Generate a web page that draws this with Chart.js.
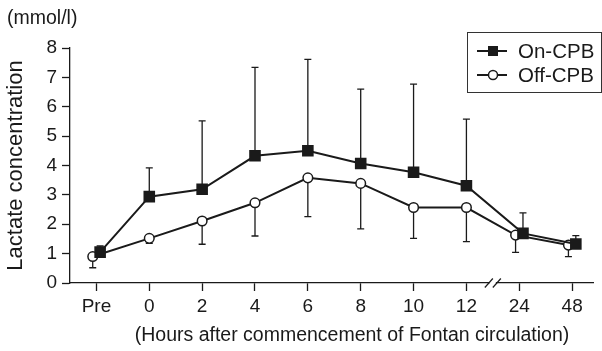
<!DOCTYPE html>
<html>
<head>
<meta charset="utf-8">
<script src="https://cdn.jsdelivr.net/npm/chart.js@4.4.1/dist/chart.umd.min.js"></script>
<style>
html, body { margin: 0; padding: 0; background: #fff; }
#wrap { width: 602px; height: 351px; position: relative; }
</style>
</head>
<body>
<div id="wrap"><canvas id="chart"></canvas></div>
<script>
// values
const timeLabels = ["Pre", "0", "2", "4", "6", "8", "10", "12", "24", "48"];
const onCpbMean = [1.05, 2.94, 3.19, 4.33, 4.5, 4.07, 3.77, 3.31, 1.69, 1.33];
const onCpbSd = [0.21, 0.98, 2.33, 3.01, 3.11, 2.53, 3.0, 2.27, 0.7, 0.28];
const offCpbMean = [0.9, 1.52, 2.11, 2.73, 3.58, 3.39, 2.57, 2.57, 1.63, 1.29];
const offCpbSd = [0.38, 0.17, 0.79, 1.13, 1.32, 1.55, 1.05, 1.16, 0.59, 0.39];
const yTickValues = [0, 1, 2, 3, 4, 5, 6, 7, 8];
const seriesNames = ["On-CPB", "Off-CPB"];
const xTitle = "(Hours after commencement of Fontan circulation)";
const yTitle = "Lactate concentration";
const yUnit = "(mmol/l)";

const INK = "#1a1a1a";
const FONT = "'Liberation Sans', Arial, sans-serif";
Chart.defaults.font.family = FONT;
Chart.defaults.color = INK;

// nudge the two series apart where they sit on top of each other
const dodge = i => Math.abs(onCpbMean[i] - offCpbMean[i]) < 0.5 ? 0.07 : 0;
const onPoints = onCpbMean.map((v, i) => ({ x: i + dodge(i), y: v }));
const offPoints = offCpbMean.map((v, i) => ({ x: i - dodge(i), y: v }));

const extras = {
    id: "extras",
    beforeDatasetsDraw(chart) {
        const ctx = chart.ctx;
        const xs = chart.scales.x, ys = chart.scales.y;
        ctx.save();
        ctx.strokeStyle = INK;
        ctx.lineWidth = 1.3;
        const bar = (x, y0, y1) => {
            ctx.beginPath();
            ctx.moveTo(x, y0); ctx.lineTo(x, y1);
            ctx.moveTo(x - 3.5, y1); ctx.lineTo(x + 3.5, y1);
            ctx.stroke();
        };
        onPoints.forEach((p, i) => bar(xs.getPixelForValue(p.x), ys.getPixelForValue(p.y), ys.getPixelForValue(p.y + onCpbSd[i])));
        offPoints.forEach((p, i) => bar(xs.getPixelForValue(p.x), ys.getPixelForValue(p.y), ys.getPixelForValue(p.y - offCpbSd[i])));
        ctx.restore();
    },
    afterDraw(chart) {
        const ctx = chart.ctx;
        const xs = chart.scales.x;
        const area = chart.chartArea;
        ctx.save();
        // axis break between 12 and 24
        const bx = xs.getPixelForValue(7.5), by = area.bottom;
        ctx.fillStyle = "#fff";
        ctx.fillRect(bx - 3, by - 2, 6, 4);
        ctx.strokeStyle = INK;
        ctx.lineWidth = 1.2;
        [-4, 4].forEach(d => {
            ctx.beginPath();
            ctx.moveTo(bx + d - 4, by + 4.5);
            ctx.lineTo(bx + d + 4, by - 4.5);
            ctx.stroke();
        });
        // unit label and x title
        ctx.fillStyle = INK;
        ctx.font = "19.5px " + FONT;
        ctx.textAlign = "left";
        ctx.textBaseline = "middle";
        ctx.fillText(yUnit, 7, 19);
        ctx.textAlign = "center";
        ctx.fillText(xTitle, 352, 336);
        // legend
        ctx.textAlign = "left";
        ctx.font = "20.5px " + FONT;
        ctx.lineWidth = 1;
        ctx.strokeStyle = "#333";
        ctx.strokeRect(467.5, 32.5, 134, 60);
        chart.data.datasets.forEach((ds, i) => {
            const y = 51 + i * 24;
            ctx.strokeStyle = INK;
            ctx.lineWidth = 2;
            ctx.beginPath();
            ctx.moveTo(477, y); ctx.lineTo(507, y);
            ctx.stroke();
            ctx.lineWidth = 1.5;
            if (ds.pointStyle === "rect") {
                ctx.fillStyle = INK;
                ctx.fillRect(488, y - 5, 10, 10);
            } else {
                ctx.fillStyle = "#fff";
                ctx.beginPath();
                ctx.arc(493, y, 4.5, 0, Math.PI * 2);
                ctx.fill();
                ctx.stroke();
            }
            ctx.fillStyle = INK;
            ctx.fillText(ds.label, 518, y + 1);
        });
        ctx.restore();
    }
};

new Chart(document.getElementById("chart"), {
    type: "line",
    data: {
        datasets: [
            {
                label: seriesNames[0],
                data: onPoints,
                borderColor: INK,
                borderWidth: 2,
                pointStyle: "rect",
                pointRadius: 8.2,
                pointBackgroundColor: INK,
                pointBorderColor: INK,
                pointBorderWidth: 0
            },
            {
                label: seriesNames[1],
                data: offPoints,
                borderColor: INK,
                borderWidth: 2,
                pointStyle: "circle",
                pointRadius: 4.8,
                pointBackgroundColor: "#fff",
                pointBorderColor: INK,
                pointBorderWidth: 1.5
            }
        ]
    },
    options: {
        responsive: true,
        maintainAspectRatio: false,
        animation: false,
        layout: { padding: { top: 48, right: 0, left: 0, bottom: 0 } },
        plugins: { legend: { display: false }, tooltip: { enabled: false } },
        scales: {
            x: {
                type: "linear",
                min: -0.5,
                max: 9.41,
                afterBuildTicks: s => { s.ticks = timeLabels.map((_, i) => ({ value: i })); },
                afterFit: s => { s.height = 68; },
                ticks: {
                    callback: v => timeLabels[v],
                    font: { size: 19 },
                    color: INK,
                    padding: 4,
                    maxRotation: 0
                },
                grid: { drawOnChartArea: false, tickLength: 8, color: INK, tickWidth: 1.3 },
                border: { color: INK, width: 1.3 }
            },
            y: {
                min: 0,
                max: 8,
                afterBuildTicks: s => { s.ticks = yTickValues.map(v => ({ value: v })); },
                afterFit: s => { s.width = 70; },
                ticks: { font: { size: 19 }, color: INK, padding: 5 },
                grid: { drawOnChartArea: false, tickLength: 8, color: INK, tickWidth: 1.3 },
                border: { color: INK, width: 1.3 },
                title: {
                    display: true,
                    text: yTitle,
                    font: { size: 22 },
                    color: INK,
                    padding: { top: 3, bottom: 0 }
                }
            }
        }
    },
    plugins: [extras]
});
</script>
</body>
</html>
